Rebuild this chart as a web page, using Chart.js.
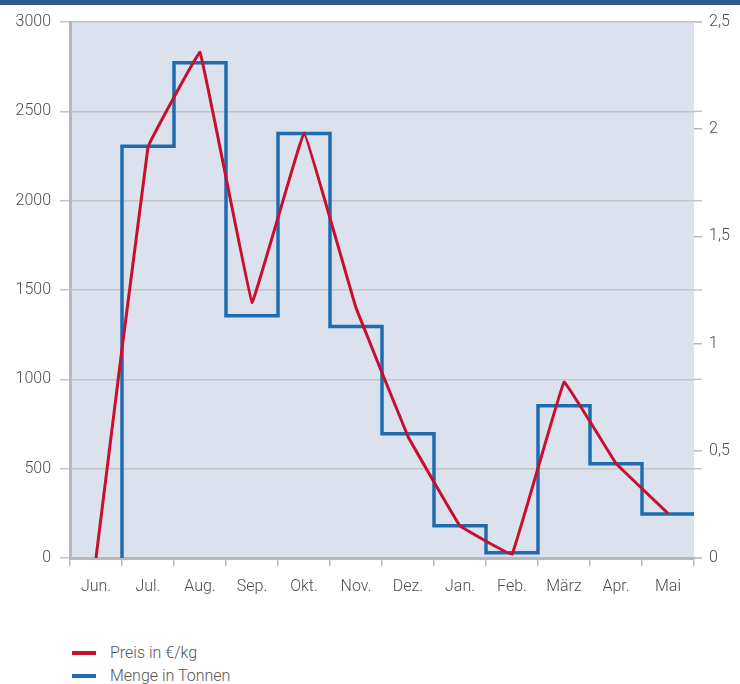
<!DOCTYPE html>
<html>
<head>
<meta charset="utf-8">
<script src="https://cdn.jsdelivr.net/npm/chart.js@4.4.1/dist/chart.umd.min.js"></script>
<style>
    body { margin: 0; background: #fff; font-family: Roboto, 'Liberation Sans', sans-serif; }
    #wrap { position: relative; width: 740px; height: 684px; overflow: hidden; }
    #band { position: absolute; left: 0; top: 0; width: 740px; height: 5px; background: #2f5a8d; }
    #chartBox { position: absolute; left: 0; top: 0; width: 740px; height: 610px; }
    .legend { position: absolute; left: 72px; font-size: 16px; font-weight: 300; color: #555; }
    .legend div { height: 23px; line-height: 23px; }
    .legend span { display: inline-block; width: 24px; height: 4px; margin-right: 14px; vertical-align: middle; position: relative; top: -1px; }
</style>
</head>
<body>
<div id="wrap">
    <div id="chartBox"><canvas id="myChart"></canvas></div>
    <div id="band"></div>
    <div class="legend" style="top: 641px;">
        <div><span style="background:#c8102e"></span>Preis in €/kg</div>
        <div><span style="background:#1f6db0"></span>Menge in Tonnen</div>
    </div>
</div>
<script>
const months = ['Jun.', 'Jul.', 'Aug.', 'Sep.', 'Okt.', 'Nov.', 'Dez.', 'Jan.', 'Feb.', 'März', 'Apr.', 'Mai']
// Preis in €/kg (left axis)
const preis = [0, 2300, 2830, 1430, 2380, 1400, 680, 180, 20, 985, 530, 250]
// Menge in Tonnen (right axis), one value per month
const menge = [0, 1.92, 2.31, 1.13, 1.98, 1.08, 0.58, 0.15, 0.025, 0.71, 0.44, 0.205]
const leftTicks = [0, 500, 1000, 1500, 2000, 2500, 3000]
const rightTicks = [0, 0.5, 1, 1.5, 2, 2.5]

// each month's quantity drawn as a step ending at the month boundary
const mengePoints = menge.map((v, i) => ({ x: i + 1, y: v }))

const plotBackground = {
    id: 'plotBackground',
    beforeDraw(chart) {
        const { ctx, chartArea: a } = chart
        ctx.save()
        ctx.fillStyle = '#dce1ee'
        ctx.fillRect(a.left, a.top, a.right - a.left, a.bottom - a.top)
        ctx.restore()
    },
    afterDraw(chart) {
        // left grid lines stick out a little past the plot on the right
        const { ctx, chartArea: a } = chart
        const y = chart.scales.y
        ctx.save()
        ctx.strokeStyle = '#c4c4c4'
        ctx.lineWidth = 1.5
        y.ticks.forEach((t, i) => {
            const py = y.getPixelForTick(i)
            ctx.beginPath()
            ctx.moveTo(a.right, py)
            ctx.lineTo(a.right + 8, py)
            ctx.stroke()
        })
        ctx.restore()
    }
}

const font = { family: "Roboto, 'Liberation Sans', sans-serif", size: 16, weight: '300' }

new Chart(document.getElementById('myChart'), {
    type: 'line',
    data: {
        labels: months,
        datasets: [
            {
                label: 'Preis in €/kg',
                data: preis,
                borderColor: '#c8102e',
                backgroundColor: '#c8102e',
                borderWidth: 3,
                pointRadius: 0,
                tension: 0.04,
                xAxisID: 'x',
                yAxisID: 'y',
                order: 1
            },
            {
                label: 'Menge in Tonnen',
                data: mengePoints,
                borderColor: '#1f6db0',
                backgroundColor: '#1f6db0',
                borderWidth: 3.5,
                pointRadius: 0,
                stepped: 'after',
                xAxisID: 'xMenge',
                yAxisID: 'y1',
                order: 2
            }
        ]
    },
    options: {
        responsive: true,
        maintainAspectRatio: false,
        animation: false,
        layout: { padding: { top: 22, left: 0, right: 0, bottom: 0 } },
        plugins: {
            legend: { display: false },
            tooltip: { enabled: false }
        },
        scales: {
            x: {
                type: 'category',
                offset: true,
                grid: { drawOnChartArea: false, drawTicks: true, tickLength: 8, color: '#b8b8b8', lineWidth: 1.5, offset: true },
                border: { color: '#b8b8b8', width: 3 },
                ticks: { color: '#4d4d4d', font: font, padding: 11, maxRotation: 0 },
                afterFit(scale) { scale.height = 52 }
            },
            xMenge: {
                type: 'linear',
                display: false,
                min: 0,
                max: 12
            },
            y: {
                position: 'left',
                min: 0,
                max: 3000,
                afterBuildTicks(scale) { scale.ticks = leftTicks.map(v => ({ value: v })) },
                grid: { color: '#c4c4c4', lineWidth: 1.5, tickLength: 10 },
                border: { color: '#b8b8b8', width: 3 },
                ticks: { color: '#4d4d4d', font: font, padding: 9, callback: v => String(v) },
                afterFit(scale) { scale.width = 70 }
            },
            y1: {
                position: 'right',
                min: 0,
                max: 2.5,
                afterBuildTicks(scale) { scale.ticks = rightTicks.map(v => ({ value: v })) },
                grid: { drawOnChartArea: false, color: '#b8b8b8', lineWidth: 1.5, tickLength: 8 },
                border: { display: false },
                ticks: {
                    color: '#4d4d4d',
                    font: font,
                    padding: 7,
                    callback: v => String(v).replace('.', ',')
                },
                afterFit(scale) { scale.width = 46 }
            }
        }
    },
    plugins: [plotBackground]
})
</script>
</body>
</html>
